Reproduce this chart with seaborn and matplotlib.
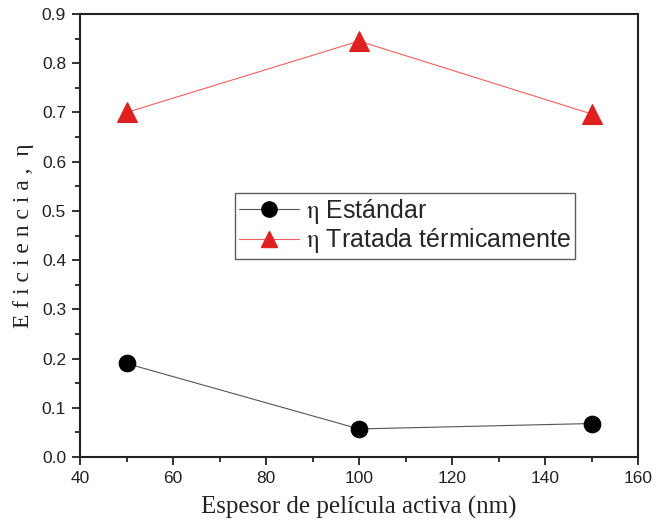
import matplotlib
matplotlib.use("Agg")
import matplotlib.pyplot as plt
import seaborn as sns
import pandas as pd
from matplotlib.ticker import MultipleLocator
from matplotlib.lines import Line2D

thickness = [50, 100, 150]
eff_standard = [0.19, 0.057, 0.068]
eff_treated = [0.700, 0.845, 0.697]
labels = [r"$\mathrm{\eta}$ Estándar", r"$\mathrm{\eta}$ Tratada térmicamente"]

df = pd.DataFrame({
    "x": thickness * 2,
    "y": eff_standard + eff_treated,
    "serie": [labels[0]] * 3 + [labels[1]] * 3,
})

sns.set_theme(style="white")
plt.rcParams['font.family'] = ['Liberation Sans', 'DejaVu Sans']
plt.rcParams['mathtext.fontset'] = 'stix'

fig = plt.figure(figsize=(6.62, 5.24), dpi=100)
ax = fig.add_axes([80/662, 1-457/524, (638-80)/662, (457-14)/524])

sns.lineplot(data=df, x="x", y="y", hue="serie", style="serie",
             palette={labels[0]: "black", labels[1]: "#e02020"},
             markers={labels[0]: "o", labels[1]: "^"}, dashes=False,
             linewidth=0.8, markersize=12, ax=ax, legend=False)
for line, lc in zip(ax.lines, ["#555555", "#f06060"]):
    line.set_color(lc)
ax.lines[0].set_markerfacecolor("black"); ax.lines[0].set_markeredgecolor("black")
ax.lines[1].set_markerfacecolor("#e02020"); ax.lines[1].set_markeredgecolor("#e02020")
ax.lines[1].set_markersize(15)

ax.set_xlim(40, 160)
ax.set_ylim(0, 0.9)
ax.xaxis.set_major_locator(MultipleLocator(20))
ax.xaxis.set_minor_locator(MultipleLocator(10))
ax.yaxis.set_major_locator(MultipleLocator(0.1))
ax.yaxis.set_minor_locator(MultipleLocator(0.05))
ax.set_yticks(ax.get_yticks())
ax.set_yticklabels([f"{v:.1f}" for v in ax.get_yticks()])
ax.set_ylim(0, 0.9)
ax.tick_params(which="both", direction="out", top=False, right=False, bottom=True, left=True,
               color="#222222", width=1.3)
ax.tick_params(which="major", length=6, labelsize=12.5, colors="#222222", pad=4)
ax.tick_params(which="minor", length=3.5)
for s in ax.spines.values():
    s.set_linewidth(1.5)
    s.set_color("#222222")

ax.set_xlabel("Espesor de película activa (nm)", fontsize=18, family="Liberation Serif",
              labelpad=7, color="#222222")
ax.set_ylabel("E f i c i e n c i a ,  η", fontsize=17, family="Liberation Serif",
              labelpad=6, color="#222222")

handles = [Line2D([], [], color="#555555", lw=0.8, marker="o", ms=11, mfc="black", mec="black"),
           Line2D([], [], color="#f06060", lw=0.8, marker="^", ms=12, mfc="#e02020", mec="#e02020")]
leg = ax.legend(handles, labels, loc="upper left", bbox_to_anchor=((235-80)/558, (457-193)/443),
                borderaxespad=0, fontsize=18, frameon=True, fancybox=False, edgecolor="#333333",
                handlelength=2.4, handletextpad=0.3, borderpad=0.15, labelspacing=0.02)
leg.get_frame().set_linewidth(1.0)

fig.savefig("out.png", dpi=100)
